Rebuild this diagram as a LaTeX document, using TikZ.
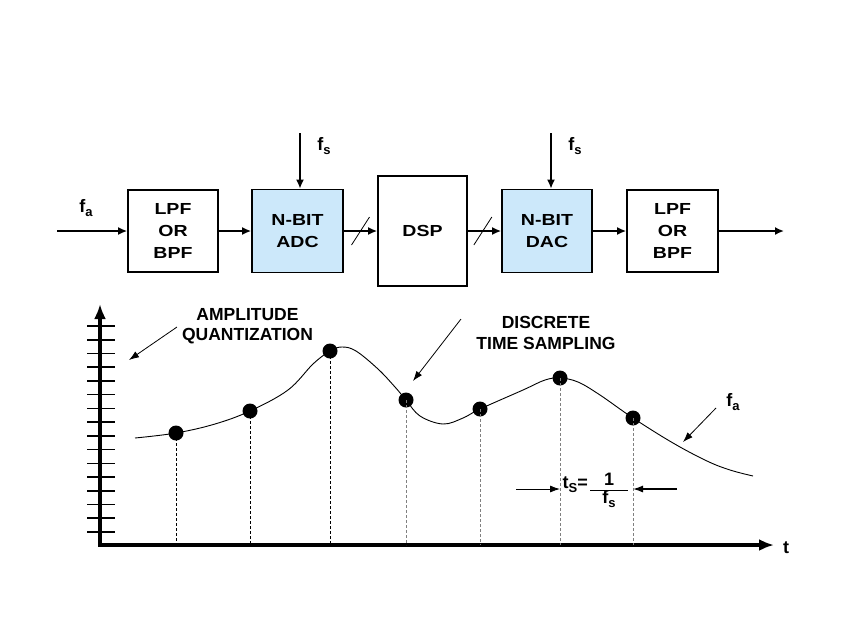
\documentclass[tikz,border=0pt]{standalone}
\usepackage{fontspec}
\setmainfont{Liberation Sans}
\newfontfamily\boxfont{Liberation Sans}[FakeStretch=1.22]
\usetikzlibrary{arrows.meta,calc}
\definecolor{adcblue}{RGB}{204,232,250}
\newcommand{\mysub}[1]{\raisebox{-0.4ex}{\fontsize{13}{13}\selectfont #1}}
\begin{document}
\begin{tikzpicture}[x=1pt,y=-1pt,
  blk/.style={draw, line width=1.7pt, inner sep=0pt, align=center,
    font=\boxfont\bfseries\fontsize{16}{21.7}\selectfont},
  conn/.style={line width=1.7pt, -{Latex[length=9pt,width=8pt]}},
  axis/.style={line width=3.5pt, -{Latex[length=15pt,width=12pt]}},
  tickmark/.style={line width=1.6pt},
  lblarrow/.style={line width=0.8pt, -{Latex[length=10pt,width=7pt]}},
  curve/.style={line width=0.9pt},
  dashline/.style={line width=0.8pt, dash pattern=on 3pt off 2pt},
  greydash/.style={dashline, draw=black!50},
  sample/.style={circle, fill=black, inner sep=0pt, minimum size=15pt},
  lbl/.style={font=\bfseries\fontsize{17.5}{20.5}\selectfont, align=center, inner sep=0pt},
  sym/.style={font=\bfseries\fontsize{18}{18}\selectfont, inner sep=0pt},
  slash/.style={line width=0.8pt}
]
\useasboundingbox (0,0) rectangle (850,638);

% ---------- block diagram ----------
\node[blk, minimum width=90pt, minimum height=82pt] (lpf1) at (173,231) {LPF\\OR\\BPF};
\node[blk, fill=adcblue, minimum width=91pt, minimum height=83pt] (adc) at (297.5,231) {N-BIT\\ADC};
\node[blk, minimum width=89pt, minimum height=110pt] (dsp) at (422.5,231) {DSP};
\node[blk, fill=adcblue, minimum width=90pt, minimum height=83pt] (dac) at (547,231) {N-BIT\\DAC};
\node[blk, minimum width=91pt, minimum height=82pt] (lpf2) at (672.5,231) {LPF\\OR\\BPF};

\coordinate (in) at (57,231);
\coordinate (out) at (784,231);
\coordinate (fsA) at (300,133);
\coordinate (fsD) at (551,133);

\draw[conn] (in) -- (lpf1.west);
\draw[conn] (lpf1.east) -- (adc.west);
\draw[conn] (adc.east) -- (dsp.west);
\draw[conn] (dsp.east) -- (dac.west);
\draw[conn] (dac.east) -- (lpf2.west);
\draw[conn] (lpf2.east) -- (out);
\draw[conn] (fsA) -- (fsA |- adc.north);
\draw[conn] (fsD) -- (fsD |- dac.north);

\draw[slash] ($(adc.east)!0.5!(dsp.west)+(-9,14)$) -- ++(18,-28);
\draw[slash] ($(dsp.east)!0.45!(dac.west)+(-9,14)$) -- ++(18,-28);

\node[sym] (fain) at (86,208) {f\mysub{a}};
\node[sym] (fslA) at (324,146) {f\mysub{s}};
\node[sym] (fslD) at (575,146) {f\mysub{s}};

% ---------- plot ----------
\coordinate (orig) at (100,545);
\coordinate (ytop) at (100,304);
\coordinate (xend) at (774,545);
\draw[axis] (orig) -- (ytop);
\draw[axis] ($(orig)+(-1.75,0)$) -- (xend);
\foreach \i in {0,...,15}
  \draw[tickmark] (87,{326+\i*13.73}) -- (115,{326+\i*13.73});

\node[sym, font=\bfseries\fontsize{18}{18}\selectfont] (tlab) at (786,548) {t};

\draw[curve] plot[smooth, tension=0.6] coordinates {
 (135,438) (176,433) (215,424) (250,411) (288,390) (313,364) (330,351)
 (342,347) (356,351) (378,369) (395,387) (406,400) (420,416) (443,424)
 (463,418) (480,409) (523,390) (545,380) (560,378) (578,382) (600,395)
 (633,418) (673,443) (707,461) (730,470) (753,476)};

\node[sample] (s1) at (176,433) {};
\node[sample] (s2) at (250,411) {};
\node[sample] (s3) at (330,351) {};
\node[sample] (s4) at (406,400) {};
\node[sample] (s5) at (480,409) {};
\node[sample] (s6) at (560,378) {};
\node[sample] (s7) at (633,418) {};

\draw[dashline] (s1.center) -- (s1 |- orig);
\draw[dashline] (s2.center) -- (s2 |- orig);
\draw[dashline] (s3.center) -- (s3 |- orig);
\draw[greydash] (s4.center) -- (s4 |- orig);
\draw[greydash] (s5.center) -- (s5 |- orig);
\draw[greydash] (s6.center) -- (s6 |- orig);
\draw[greydash] (s7.center) -- (s7 |- orig);

% labels with pointers
\node[lbl] (aq) at (247.5,326) {AMPLITUDE\\QUANTIZATION};
\coordinate (aqs) at (177,327);
\coordinate (aqe) at (129,360);
\draw[lblarrow] (aqs) -- (aqe);

\node[lbl] (dts) at (546,333) {DISCRETE\\TIME SAMPLING};
\coordinate (dtss) at (461,319);
\coordinate (dtse) at (413,381);
\draw[lblarrow] (dtss) -- (dtse);

\node[sym] (fap) at (733,402) {f\mysub{a}};
\coordinate (fas) at (716,408);
\coordinate (fae) at (683,442);
\draw[lblarrow] (fas) -- (fae);

% ts = 1/fs
\node[sym, anchor=east] (ts) at (588,485) {t\mysub{S}=};
\coordinate (barl) at (590,490.5);
\coordinate (barr) at (628,490.5);
\draw[line width=1.3pt] (barl) -- (barr);
\node[sym] (one) at (609,479) {1};
\node[sym] (fsb) at (609,499) {f\mysub{s}};
\coordinate (tl) at (516,489);
\coordinate (tr) at (677,489);
\draw[lblarrow] (tl) -- (s6 |- tl);
\draw[lblarrow, line width=1.2pt] (tr) -- (s7 |- tr);
\end{tikzpicture}
\end{document}
